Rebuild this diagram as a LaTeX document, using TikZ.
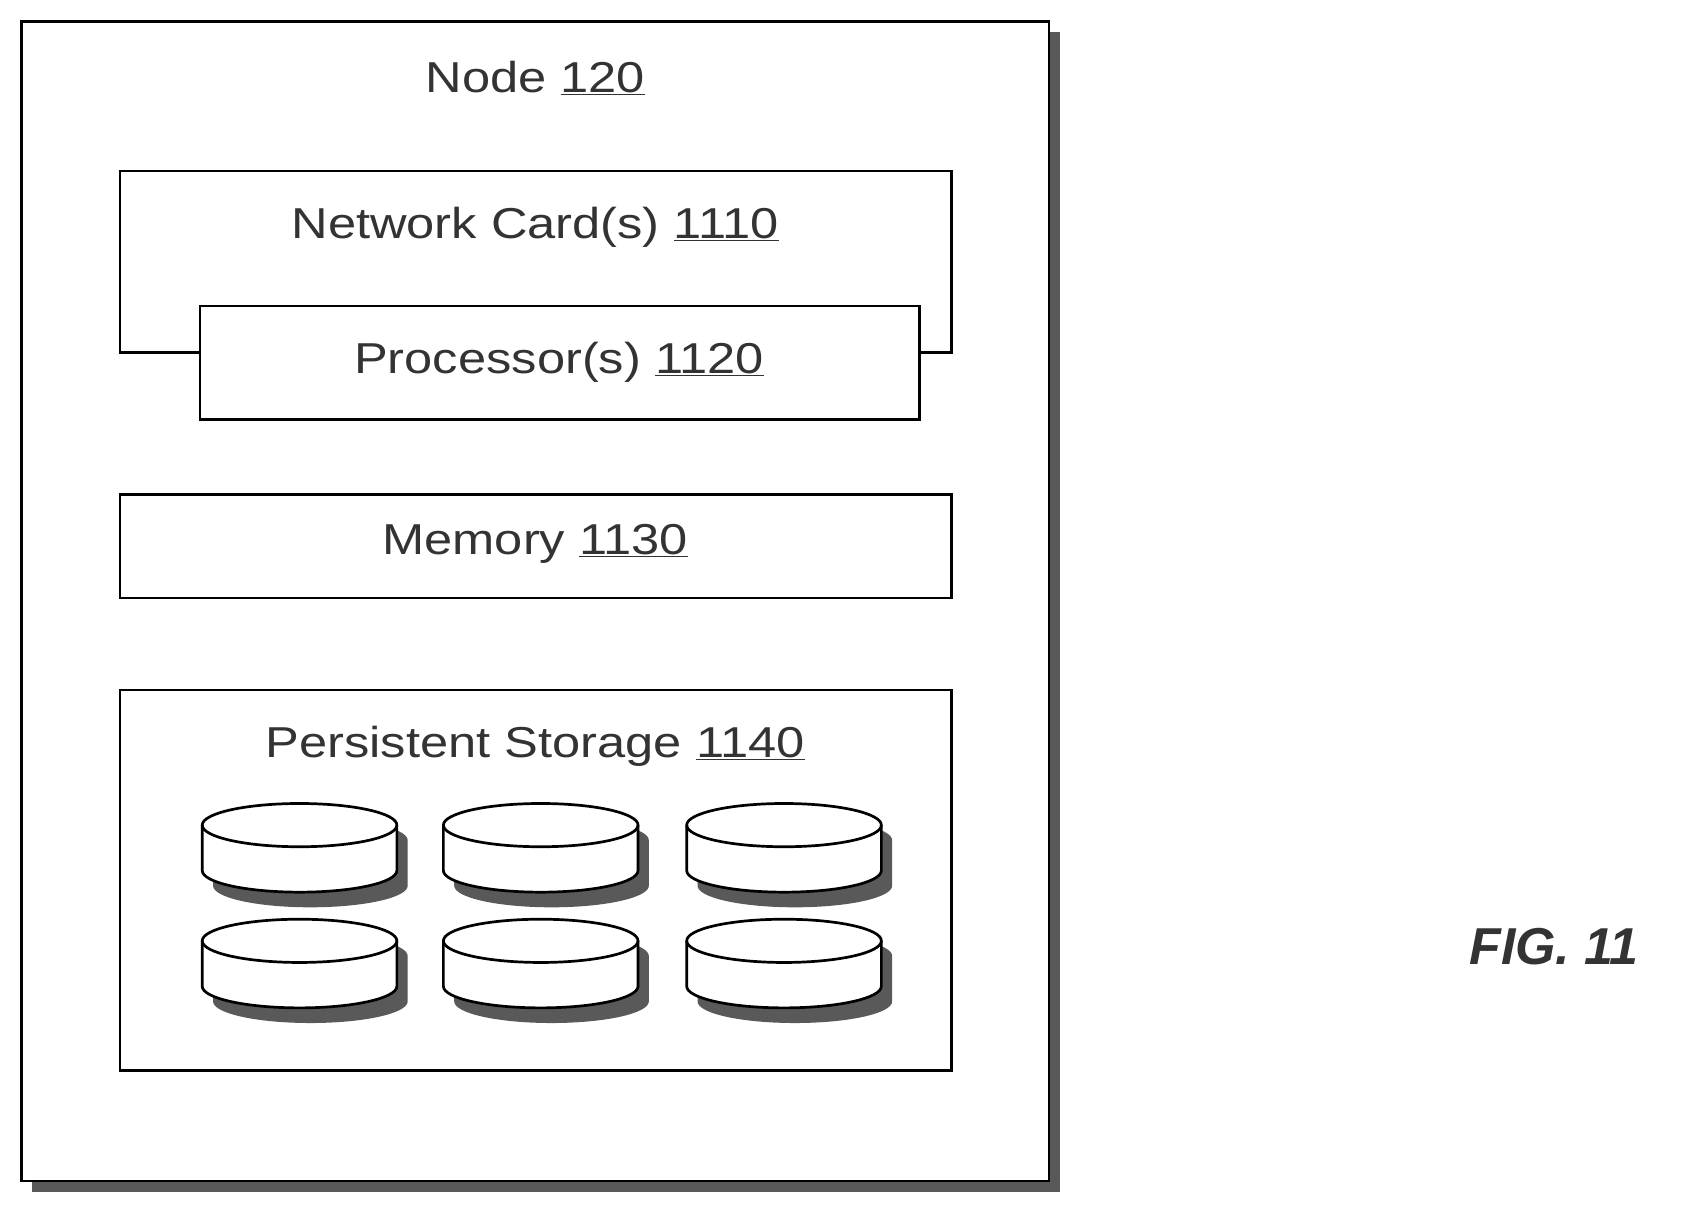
\documentclass[tikz,border=0pt]{standalone}
\usepackage{fontspec}
\setmainfont{Liberation Sans}
\begin{document}
\begin{tikzpicture}[x=1pt,y=-1pt,
  box/.style={draw=black,line width=2.5pt,fill=white},
  shadow/.style={fill=black!65},
  lbl/.style={font=\fontsize{40}{44}\selectfont,text=black!80,transform shape,xscale=1.17},
  ]
\useasboundingbox (0,0) rectangle (1560,1119);
% outer node
\fill[shadow] (30,30) rectangle (980,1102);
\draw[box] (20,20) rectangle (970,1092);
\node[lbl] (n) at (495,72) {Node \underline{120}};
% network card (U shape behind processor)
\draw[black,line width=2.5pt] (185,326) -- (111,326) -- (111,158) -- (880,158) -- (880,326) -- (850,326);
\node[lbl] (nc) at (495,210) {Network Card(s) \underline{1110}};
\draw[box] (185,283) rectangle (850,388);
\node[lbl] (p) at (517,335) {Processor(s) \underline{1120}};
\draw[box] (111,457) rectangle (880,553);
\node[lbl] (m) at (495,503) {Memory \underline{1130}};
\draw[box] (111,638) rectangle (880,990);
\node[lbl] (s) at (495,690) {Persistent Storage \underline{1140}};
\foreach \cx/\cy [count=\i] in {277/763,500/763,725/763,277/870,500/870,725/870}{
  \begin{scope}[shift={(\cx,\cy)}]
  \fill[shadow] (-80,14) -- (-80,56) arc[start angle=180,end angle=0,x radius=90,y radius=20] -- (100,14) arc[start angle=0,end angle=-180,x radius=90,y radius=20] -- cycle;
  \draw[box] (-90,0) -- (-90,42) arc[start angle=180,end angle=0,x radius=90,y radius=20] -- (90,0) arc[start angle=0,end angle=-180,x radius=90,y radius=20] -- cycle;
  \draw[black,line width=2.5pt] (-90,0) arc[start angle=180,end angle=0,x radius=90,y radius=20];
  \coordinate (d\i) at (0,0);
  \end{scope}}
\node[font=\fontsize{48}{52}\selectfont\bfseries\itshape,text=black!80] (fig) at (1437,875) {FIG. 11};
\end{tikzpicture}
\end{document}
